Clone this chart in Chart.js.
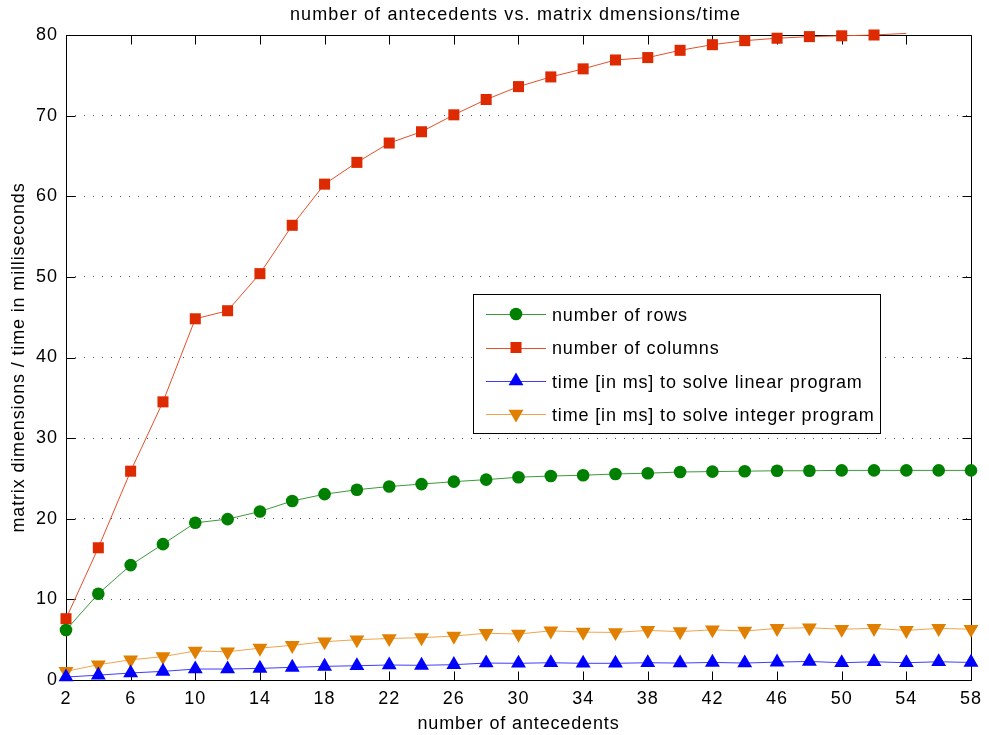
<!DOCTYPE html>
<html>
<head>
<meta charset="utf-8">
<script src="https://cdn.jsdelivr.net/npm/chart.js@4"></script>
<style>
  html, body { margin: 0; padding: 0; background: #fff; }
  #c { display: block; }
</style>
</head>
<body>
<canvas id="c" width="989" height="735"></canvas>
<script>
// ---- data ----
const antecedents = [2,4,6,8,10,12,14,16,18,20,22,24,26,28,30,32,34,36,38,40,42,44,46,48,50,52,54,56,58];
const rows = [6.2,10.7,14.25,16.85,19.5,19.95,20.9,22.2,23.05,23.6,24.0,24.3,24.6,24.85,25.15,25.3,25.4,25.55,25.65,25.8,25.85,25.9,25.95,25.95,26.0,26.0,26.0,26.0,26.0];
const columns = [7.6,16.4,25.9,34.5,44.8,45.8,50.4,56.4,61.5,64.2,66.6,68.0,70.1,72.0,73.6,74.8,75.8,76.9,77.2,78.1,78.8,79.3,79.6,79.8,79.9,80.0,80.2,null,null];
const linearTime = [0.37,0.6,0.87,1.07,1.36,1.36,1.44,1.57,1.69,1.77,1.86,1.82,1.9,2.1,2.07,2.14,2.07,2.07,2.14,2.1,2.18,2.1,2.22,2.3,2.14,2.26,2.14,2.26,2.18];
const integerTime = [1.07,1.9,2.5,2.9,3.6,3.5,3.95,4.3,4.75,5.0,5.15,5.25,5.45,5.8,5.7,6.1,5.94,5.9,6.15,6.0,6.23,6.07,6.4,6.48,6.3,6.4,6.15,6.4,6.3];
const xTicks = [2,6,10,14,18,22,26,30,34,38,42,46,50,54,58];
const yTicks = [0,10,20,30,40,50,60,70,80];
const seriesLabels = ['number of rows','number of columns','time [in ms] to solve linear program','time [in ms] to solve integer program'];
const chartTitle = 'number of antecedents vs. matrix dmensions/time';
const xTitle = 'number of antecedents';
const yTitle = 'matrix dimensions / time in milliseconds';

const X_MIN = 2, X_MAX = 58, Y_MIN = 0, Y_MAX = 80;
const FONT = '"Liberation Sans", Arial, Helvetica, sans-serif';
Chart.defaults.font.family = FONT;
Chart.defaults.color = '#000';

function pts(ys) { return antecedents.map((x, i) => ({x: x, y: ys[i]})); }

const styles = [
  {line: '#3a9a3a', fill: '#008000', shape: 'circle', r: 6.3, rot: 0},
  {line: '#e4502a', fill: '#dd2a00', shape: 'rect', r: 7.8, rot: 0},
  {line: '#3c3cff', fill: '#0000ff', shape: 'triangle', r: 8.6, rot: 0},
  {line: '#eea54a', fill: '#e07f00', shape: 'triangle', r: 8.6, rot: 180}
];
const seriesData = [rows, columns, linearTime, integerTime];

const datasets = seriesData.map((d, i) => ({
  label: seriesLabels[i],
  data: pts(d),
  borderColor: styles[i].line,
  borderWidth: 1,
  backgroundColor: styles[i].fill,
  pointBackgroundColor: styles[i].fill,
  pointBorderColor: styles[i].fill,
  pointBorderWidth: 0,
  pointStyle: styles[i].shape,
  pointRotation: styles[i].rot,
  pointRadius: (ctx) => (ctx.raw && ctx.raw.y > Y_MAX) ? 0 : styles[i].r,
  pointHoverRadius: styles[i].r,
  tension: 0,
  spanGaps: false,
  clip: 12
}));

// letter spacing for tick labels drawn by Chart.js
const spacingPlugin = {
  id: 'spacing',
  beforeDraw(chart) { chart.ctx.letterSpacing = '1px'; }
};

// axes box + inner ticks
const boxPlugin = {
  id: 'box',
  beforeDatasetsDraw(chart) {
    const {ctx, chartArea: a, scales} = chart;
    ctx.save();
    ctx.strokeStyle = '#000';
    ctx.lineWidth = 1;
    ctx.setLineDash([]);
    ctx.beginPath();
    const L = Math.round(a.left) + 0.5, R = Math.round(a.right) + 0.5;
    const T = Math.round(a.top) + 0.5, B = Math.round(a.bottom) + 0.5;
    ctx.rect(L, T, R - L, B - T);
    const tl = 9;
    xTicks.forEach(v => {
      const px = Math.round(scales.x.getPixelForValue(v)) + 0.5;
      ctx.moveTo(px, B); ctx.lineTo(px, B - tl);
      ctx.moveTo(px, T); ctx.lineTo(px, T + tl);
    });
    yTicks.forEach(v => {
      const py = Math.round(scales.y.getPixelForValue(v)) + 0.5;
      ctx.moveTo(L, py); ctx.lineTo(L + tl, py);
      ctx.moveTo(R, py); ctx.lineTo(R - tl, py);
    });
    ctx.stroke();
    ctx.restore();
  }
};

// titles + legend
const textPlugin = {
  id: 'texts',
  afterDatasetsDraw(chart) {
    const {ctx, chartArea: a} = chart;
    ctx.save();
    ctx.fillStyle = '#000';
    ctx.textBaseline = 'alphabetic';
    ctx.textAlign = 'center';
    // chart title
    ctx.font = '18px ' + FONT;
    ctx.letterSpacing = '1.15px';
    ctx.fillText(chartTitle, (a.left + a.right) / 2 - 3, 19.5);
    // x title
    ctx.letterSpacing = '0.85px';
    ctx.fillText(xTitle, (a.left + a.right) / 2, 729);
    // y title
    ctx.save();
    ctx.translate(24, (a.top + a.bottom) / 2);
    ctx.rotate(-Math.PI / 2);
    ctx.fillText(yTitle, 0, 0);
    ctx.restore();

    // legend
    const bx = 473.5, by = 294.5, bw = 407, bh = 139;
    ctx.fillStyle = '#fff';
    ctx.fillRect(bx, by, bw, bh);
    ctx.strokeStyle = '#000';
    ctx.lineWidth = 1;
    ctx.strokeRect(bx, by, bw, bh);
    const rowsY = [314, 347.5, 381, 414];
    ctx.font = '18px ' + FONT;
    ctx.letterSpacing = '0.85px';
    ctx.textAlign = 'left';
    chart.data.datasets.forEach((ds, i) => {
      const y = rowsY[i];
      ctx.strokeStyle = ds.borderColor;
      ctx.lineWidth = 1;
      ctx.beginPath();
      ctx.moveTo(486, Math.round(y) + 0.5); ctx.lineTo(546, Math.round(y) + 0.5);
      ctx.stroke();
      ctx.fillStyle = ds.pointBackgroundColor;
      ctx.strokeStyle = ds.pointBackgroundColor;
      Chart.helpers.drawPoint(ctx, {pointStyle: ds.pointStyle, radius: styles[i].r, rotation: ds.pointRotation, borderWidth: 0}, 516, y);
      ctx.fillStyle = '#000';
      ctx.fillText(ds.label, 552, y + 6.5);
    });
    ctx.restore();
  }
};

new Chart(document.getElementById('c'), {
  type: 'line',
  data: { datasets: datasets },
  plugins: [spacingPlugin, boxPlugin, textPlugin],
  options: {
    responsive: false,
    animation: false,
    events: [],
    layout: { padding: { left: 0, right: 15, top: 35, bottom: 0 } },
    plugins: {
      legend: { display: false },
      tooltip: { enabled: false },
      title: { display: false }
    },
    scales: {
      x: {
        type: 'linear',
        min: X_MIN, max: X_MAX,
        afterBuildTicks: (s) => { s.ticks = xTicks.map(v => ({value: v})); },
        afterFit: (s) => { s.height = 55; },
        grid: { display: false, drawTicks: false },
        border: { display: false },
        ticks: { font: { size: 18 }, padding: 8, maxRotation: 0, autoSkip: false, color: '#000' },
        title: { display: false }
      },
      y: {
        type: 'linear',
        min: Y_MIN, max: Y_MAX,
        afterBuildTicks: (s) => { s.ticks = yTicks.map(v => ({value: v})); },
        afterFit: (s) => { s.width = 66; },
        grid: { display: true, drawTicks: false, color: '#555', lineWidth: 1 },
        border: { display: false, dash: [1, 8] },
        ticks: { font: { size: 18 }, padding: 8, color: '#000' },
        title: { display: false }
      }
    }
  }
});
</script>
</body>
</html>
